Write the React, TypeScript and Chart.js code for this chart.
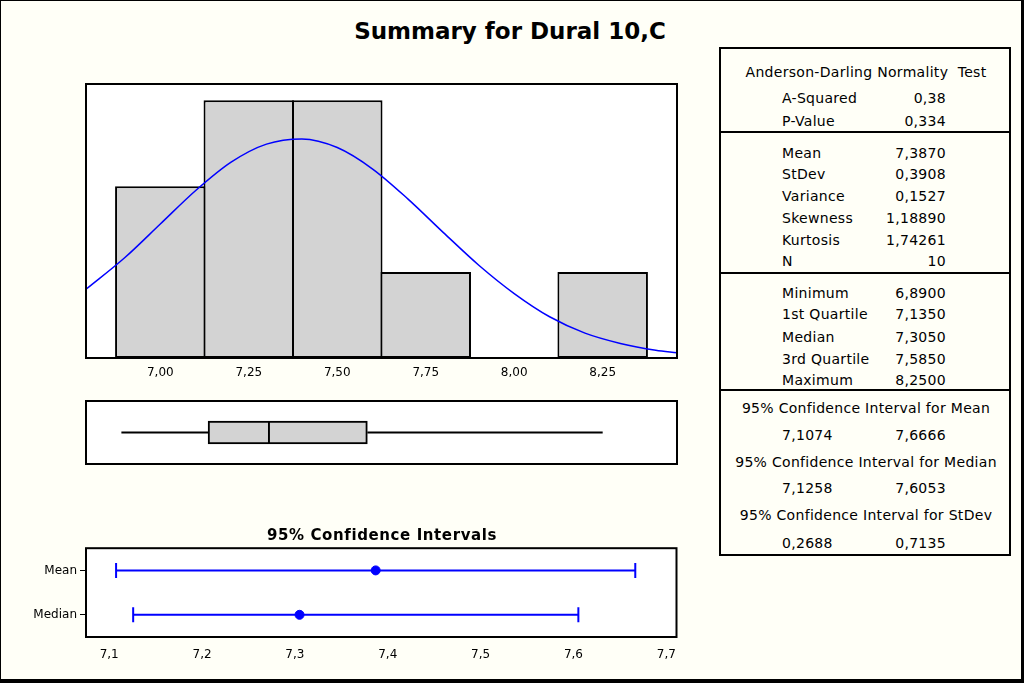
import React, { useEffect, useRef } from 'react';
import { Chart, registerables } from 'chart.js';

Chart.register(...registerables);

// ---------- data ----------
const histBinCenters = [7.0, 7.25, 7.5, 7.75, 8.0, 8.25];
const histCounts = [2, 3, 3, 1, 0, 1];
const histTicks = [7.0, 7.25, 7.5, 7.75, 8.0, 8.25];
const histXMin = 6.79;
const histXMax = 8.46;
const histYMax = 3.19;

// fitted normal curve (count units)
const curveX = [6.79, 6.9, 7.0, 7.1, 7.2, 7.3, 7.4, 7.5, 7.6, 7.7, 7.8, 7.9, 8.0, 8.1, 8.2, 8.3, 8.4, 8.46];
const curveY = [0.8, 1.17, 1.56, 1.95, 2.28, 2.49, 2.55, 2.45, 2.2, 1.85, 1.46, 1.08, 0.75, 0.48, 0.29, 0.17, 0.09, 0.06];

const boxMin = 6.89;
const boxQ1 = 7.135;
const boxMedian = 7.305;
const boxQ3 = 7.585;
const boxMax = 8.25;

const ciRows = ['Mean', 'Median'];
const ciLow = [7.1074, 7.1258];
const ciHigh = [7.6666, 7.6053];
const ciEstimate = [7.387, 7.305];
const ciTicks = [7.1, 7.2, 7.3, 7.4, 7.5, 7.6, 7.7];
const ciXMin = 7.075;
const ciXMax = 7.711;

const mainTitle = 'Summary for Dural 10,C';
const ciTitle = '95% Confidence Intervals';

const adTitle = 'Anderson-Darling Normality  Test';
const adLabels = ['A-Squared', 'P-Value'];
const adValues = ['0,38', '0,334'];
const descLabels = ['Mean', 'StDev', 'Variance', 'Skewness', 'Kurtosis', 'N'];
const descValues = ['7,3870', '0,3908', '0,1527', '1,18890', '1,74261', '10'];
const quartLabels = ['Minimum', '1st Quartile', 'Median', '3rd Quartile', 'Maximum'];
const quartValues = ['6,8900', '7,1350', '7,3050', '7,5850', '8,2500'];
const ciTableTitles = [
  '95% Confidence Interval for Mean',
  '95% Confidence Interval for Median',
  '95% Confidence Interval for StDev',
];
const ciTableLow = ['7,1074', '7,1258', '0,2688'];
const ciTableHigh = ['7,6666', '7,6053', '0,7135'];

// ---------- layout ----------
const FONT = '"DejaVu Sans", Verdana, sans-serif';
const adTitleY = 72;
const adRowY = [98, 121];
const descRowY = [153, 174, 196, 218, 240, 261];
const quartRowY = [293, 314, 337, 359, 380];
const ciTitleRowY = [408, 462, 515];
const ciValueRowY = [435, 488, 543];
const labelX = 782;
const valueRightX = 946;
const tableCenterX = 866;

const fmt = (v: number, d: number) => Number(v).toFixed(d).replace('.', ',');

const framePlugin = {
  id: 'frame',
  beforeDraw(chart: any) {
    const { ctx, chartArea: a } = chart;
    ctx.save();
    ctx.fillStyle = '#FFFFFF';
    ctx.fillRect(a.left, a.top, a.right - a.left, a.bottom - a.top);
    ctx.restore();
  },
  afterDraw(chart: any) {
    const { ctx, chartArea: a } = chart;
    ctx.save();
    ctx.strokeStyle = '#000000';
    ctx.lineWidth = 2;
    ctx.strokeRect(a.left, a.top, a.right - a.left, a.bottom - a.top);
    ctx.restore();
  },
};

type TProps = {
  x: number;
  y: number;
  align?: 'left' | 'right' | 'center';
  size?: number;
  bold?: boolean;
  spacing?: number;
  children: React.ReactNode;
};

function T({ x, y, align = 'left', size = 14, bold = false, spacing = 0.3, children }: TProps) {
  const style: React.CSSProperties = {
    position: 'absolute',
    top: y - 10,
    lineHeight: '20px',
    fontSize: size,
    fontWeight: bold ? 'bold' : 'normal',
    whiteSpace: 'pre',
    letterSpacing: spacing,
    color: '#000',
  };
  if (align === 'left') style.left = x;
  else if (align === 'right') style.right = 1024 - x;
  else {
    style.left = x;
    style.transform = 'translateX(-50%)';
  }
  return <div style={style}>{children}</div>;
}

export default function App() {
  const histRef = useRef<HTMLCanvasElement>(null);
  const boxRef = useRef<HTMLCanvasElement>(null);
  const ciRef = useRef<HTMLCanvasElement>(null);

  useEffect(() => {
    document.body.style.margin = '0';
    const charts: Chart[] = [];

    // Histogram
    charts.push(
      new Chart(histRef.current as HTMLCanvasElement, {
        type: 'bar',
        data: {
          datasets: [
            {
              type: 'line',
              data: curveX.map((x, i) => ({ x, y: curveY[i] })),
              borderColor: '#0000FF',
              borderWidth: 1.5,
              pointRadius: 0,
              cubicInterpolationMode: 'monotone',
              order: 0,
            } as any,
            {
              type: 'bar',
              data: histBinCenters.map((x, i) => ({ x, y: histCounts[i] })),
              backgroundColor: '#D3D3D3',
              borderColor: '#000000',
              borderWidth: 2,
              borderSkipped: false,
              barPercentage: 1.023,
              categoryPercentage: 1,
              order: 1,
            } as any,
          ],
        },
        options: {
          animation: false,
          responsive: false,
          events: [],
          layout: { padding: { left: 10, right: 10, top: 10, bottom: 2 } },
          plugins: { legend: { display: false }, tooltip: { enabled: false } },
          scales: {
            x: {
              type: 'linear',
              min: histXMin,
              max: histXMax,
              offset: false,
              grid: { display: false, drawTicks: false },
              border: { display: false },
              afterBuildTicks: (s: any) => {
                s.ticks = histTicks.map((v) => ({ value: v }));
              },
              afterFit: (s: any) => {
                s.height = 24;
              },
              ticks: {
                callback: (v: any) => fmt(v, 2),
                color: '#000',
                font: { family: FONT, size: 12 },
                padding: 8,
                maxRotation: 0,
                autoSkip: false,
              },
            },
            y: { display: false, min: 0, max: histYMax },
          },
        } as any,
        plugins: [framePlugin],
      })
    );

    // Box plot
    charts.push(
      new Chart(boxRef.current as HTMLCanvasElement, {
        type: 'bar',
        data: {
          datasets: [
            {
              type: 'line',
              data: [
                { x: boxMin, y: 0.5 },
                { x: boxQ1, y: 0.5 },
              ],
              borderColor: '#000',
              borderWidth: 2,
              pointRadius: 0,
              order: 0,
            } as any,
            {
              type: 'line',
              data: [
                { x: boxQ3, y: 0.5 },
                { x: boxMax, y: 0.5 },
              ],
              borderColor: '#000',
              borderWidth: 2,
              pointRadius: 0,
              order: 0,
            } as any,
            {
              type: 'bar',
              data: [
                { x: [boxQ1, boxMedian], y: 0.5 },
                { x: [boxMedian, boxQ3], y: 0.5 },
              ],
              backgroundColor: '#D3D3D3',
              borderColor: '#000',
              borderWidth: [
                { top: 2, bottom: 2, left: 2, right: 0 },
                { top: 2, bottom: 2, left: 2, right: 2 },
              ],
              borderSkipped: false,
              barThickness: 23,
              order: 1,
            } as any,
          ],
        },
        options: {
          animation: false,
          responsive: false,
          events: [],
          indexAxis: 'y',
          layout: { padding: 10 },
          plugins: { legend: { display: false }, tooltip: { enabled: false } },
          scales: {
            x: { type: 'linear', display: false, min: histXMin, max: histXMax, offset: false },
            y: { type: 'linear', display: false, min: 0, max: 1, offset: false },
          },
        } as any,
        plugins: [framePlugin],
      })
    );

    // Confidence intervals
    const ciDatasets: any[] = [];
    ciDatasets.push({
      type: 'scatter',
      data: ciRows.map((r, i) => ({ x: ciEstimate[i], y: r })),
      backgroundColor: '#0000FF',
      borderColor: '#0000FF',
      pointRadius: 4.5,
      pointStyle: 'circle',
      showLine: false,
    });
    ciRows.forEach((r, i) => {
      ciDatasets.push({
        type: 'line',
        data: [
          { x: ciLow[i], y: r },
          { x: ciHigh[i], y: r },
        ],
        borderColor: '#0000FF',
        backgroundColor: '#0000FF',
        borderWidth: 2,
        pointStyle: 'line',
        pointRotation: 90,
        pointRadius: 7.5,
        pointBorderWidth: 2,
        pointBorderColor: '#0000FF',
      });
    });

    charts.push(
      new Chart(ciRef.current as HTMLCanvasElement, {
        type: 'scatter',
        data: { datasets: ciDatasets },
        options: {
          animation: false,
          responsive: false,
          events: [],
          layout: { padding: { left: 0, right: 10, top: 10, bottom: 7 } },
          plugins: { legend: { display: false }, tooltip: { enabled: false } },
          scales: {
            x: {
              type: 'linear',
              min: ciXMin,
              max: ciXMax,
              grid: { display: false, drawTicks: false },
              border: { display: false },
              afterBuildTicks: (s: any) => {
                s.ticks = ciTicks.map((v) => ({ value: v }));
              },
              afterFit: (s: any) => {
                s.height = 24;
              },
              ticks: {
                callback: (v: any) => fmt(v, 1),
                color: '#000',
                font: { family: FONT, size: 12 },
                padding: 11,
                maxRotation: 0,
                autoSkip: false,
              },
            },
            y: {
              type: 'category',
              labels: ciRows,
              offset: true,
              border: { display: false },
              grid: {
                drawOnChartArea: false,
                drawTicks: true,
                tickLength: 6,
                color: '#000',
                lineWidth: 1,
                offset: false,
              },
              afterFit: (s: any) => {
                s.width = 86;
              },
              ticks: {
                color: '#000',
                font: { family: FONT, size: 12 },
                padding: 3,
              },
            },
          },
        } as any,
        plugins: [framePlugin],
      })
    );

    return () => charts.forEach((c) => c.destroy());
  }, []);

  const hLine = (y: number, key: string) => (
    <div key={key} style={{ position: 'absolute', left: 719, top: y - 1, width: 292, height: 2, background: '#000' }} />
  );

  return (
    <div
      style={{
        position: 'relative',
        width: 1024,
        height: 683,
        background: '#FFFFF7',
        fontFamily: FONT,
        overflow: 'hidden',
      }}
    >
      <canvas ref={histRef} width={611} height={310} style={{ position: 'absolute', left: 76, top: 74 }} />
      <canvas ref={boxRef} width={611} height={83} style={{ position: 'absolute', left: 76, top: 391 }} />
      <canvas ref={ciRef} width={687} height={130} style={{ position: 'absolute', left: 0, top: 538 }} />

      <T x={510} y={31} align="center" size={23} bold spacing={0}>
        {mainTitle}
      </T>
      <T x={382} y={535} align="center" size={15} bold spacing={0.6}>
        {ciTitle}
      </T>

      {/* statistics table */}
      <div
        style={{
          position: 'absolute',
          left: 719,
          top: 47,
          width: 292,
          height: 509,
          boxSizing: 'border-box',
          border: '2px solid #000',
        }}
      />
      {hLine(132, 'l1')}
      {hLine(273, 'l2')}
      {hLine(390, 'l3')}

      <T x={tableCenterX} y={adTitleY} align="center">
        {adTitle}
      </T>
      {adLabels.map((l, i) => (
        <React.Fragment key={'ad' + i}>
          <T x={labelX} y={adRowY[i]}>{l}</T>
          <T x={valueRightX} y={adRowY[i]} align="right">{adValues[i]}</T>
        </React.Fragment>
      ))}
      {descLabels.map((l, i) => (
        <React.Fragment key={'de' + i}>
          <T x={labelX} y={descRowY[i]}>{l}</T>
          <T x={valueRightX} y={descRowY[i]} align="right">{descValues[i]}</T>
        </React.Fragment>
      ))}
      {quartLabels.map((l, i) => (
        <React.Fragment key={'qu' + i}>
          <T x={labelX} y={quartRowY[i]}>{l}</T>
          <T x={valueRightX} y={quartRowY[i]} align="right">{quartValues[i]}</T>
        </React.Fragment>
      ))}
      {ciTableTitles.map((t, i) => (
        <React.Fragment key={'ci' + i}>
          <T x={tableCenterX} y={ciTitleRowY[i]} align="center">{t}</T>
          <T x={labelX} y={ciValueRowY[i]}>{ciTableLow[i]}</T>
          <T x={valueRightX} y={ciValueRowY[i]} align="right">{ciTableHigh[i]}</T>
        </React.Fragment>
      ))}

      {/* outer frame */}
      <div
        style={{
          position: 'absolute',
          left: 0,
          top: 0,
          width: 1024,
          height: 683,
          boxSizing: 'border-box',
          borderLeft: '1px solid #000',
          borderTop: '1px solid #000',
          borderRight: '3px solid #000',
          borderBottom: '4px solid #000',
          pointerEvents: 'none',
        }}
      />
    </div>
  );
}
